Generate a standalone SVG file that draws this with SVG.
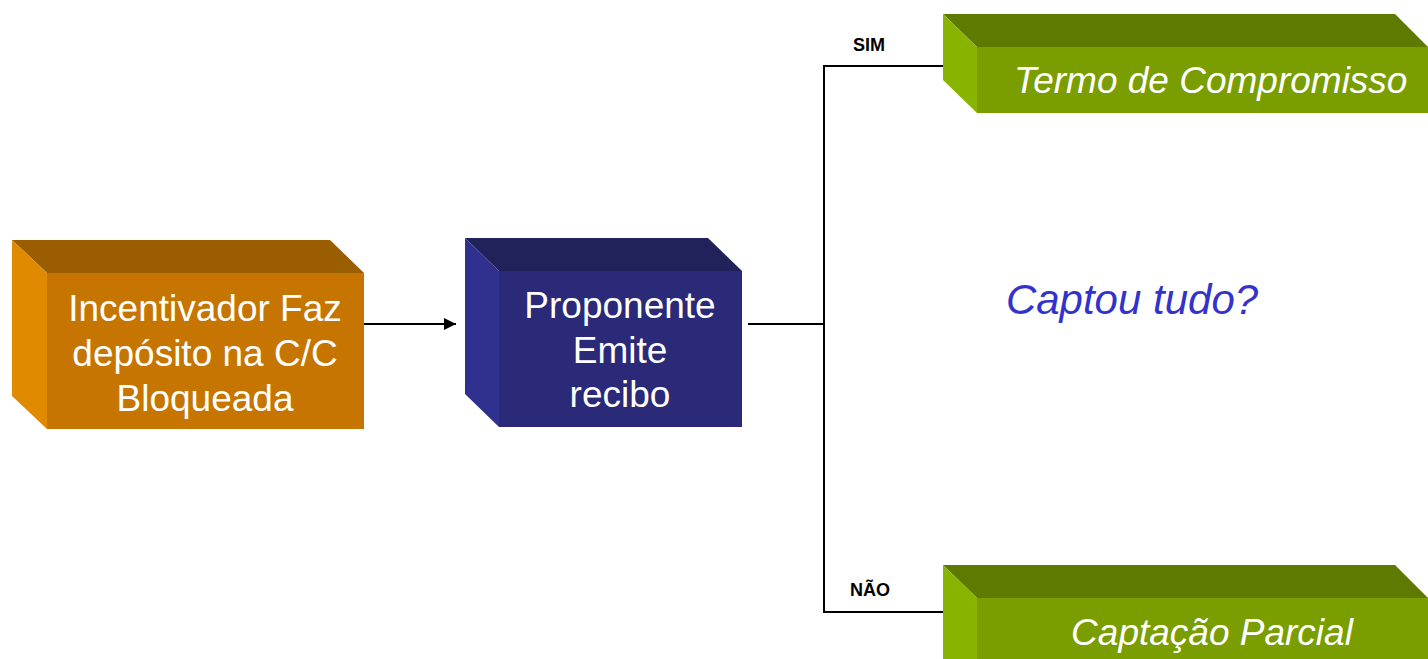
<svg xmlns="http://www.w3.org/2000/svg" width="1428" height="659" viewBox="0 0 1428 659">
<defs>
<style>
.t{font-family:"Liberation Sans",Arial,sans-serif;fill:#fff;text-anchor:middle;font-size:37px}
.ti{font-family:"Liberation Sans",Arial,sans-serif;fill:#fff;font-style:italic;font-size:37px}
.lb{font-family:"Liberation Sans",Arial,sans-serif;font-weight:bold;font-size:18px;fill:#000;text-anchor:middle}
.ln{stroke:#000;stroke-width:2;fill:none}
</style>
<marker id="ah" viewBox="0 0 10 10" refX="10" refY="5" markerWidth="14" markerHeight="12" markerUnits="userSpaceOnUse" orient="auto"><path d="M0,0L10,5L0,10z" fill="#000"/></marker>
</defs>
<rect width="1428" height="659" fill="#fff"/>
<g id="connectors">
<line class="ln" x1="364" y1="324" x2="456" y2="324" marker-end="url(#ah)"/>
<line class="ln" x1="748" y1="324" x2="824" y2="324"/>
<line class="ln" x1="824" y1="66" x2="824" y2="612"/>
<line class="ln" x1="823" y1="66" x2="946" y2="66"/>
<line class="ln" x1="823" y1="612" x2="946" y2="612"/>
<text class="lb" x="869" y="51">SIM</text>
<text class="lb" x="870" y="596">NÃO</text>
</g>
<g id="node-incentivador">
<polygon points="12,240 330,240 364,273 47,273" fill="#9A5E00"/>
<polygon points="12,240 47,273 47,429 12,396" fill="#E08A00"/>
<rect x="47" y="273" width="317" height="156" fill="#C67600"/>
<text class="t" x="205" y="321">Incentivador Faz</text>
<text class="t" x="205" y="366">depósito na C/C</text>
<text class="t" x="205" y="411">Bloqueada</text>
</g>
<g id="node-proponente">
<polygon points="465,238 708,238 742,271 499,271" fill="#22225A"/>
<polygon points="465,238 499,271 499,427 465,394" fill="#30308E"/>
<rect x="499" y="271" width="243" height="156" fill="#2A2A78"/>
<text class="t" x="620" y="318">Proponente</text>
<text class="t" x="620" y="363">Emite</text>
<text class="t" x="620" y="407">recibo</text>
</g>
<g id="node-question">
<text x="1132" y="314" font-family="'Liberation Sans',Arial,sans-serif" font-style="italic" font-size="42" fill="#3333CC" text-anchor="middle">Captou tudo?</text>
</g>
<g id="node-termo">
<polygon points="943,14 1395,14 1428,47 977,47" fill="#5E7A00"/>
<polygon points="943,14 977,47 977,113 943,80" fill="#88B400"/>
<rect x="977" y="47" width="451" height="66" fill="#7A9E00"/>
<text class="ti" x="1014" y="93">Termo de Compromisso</text>
</g>
<g id="node-parcial">
<polygon points="943,565 1395,565 1428,598 977,598" fill="#5E7A00"/>
<polygon points="943,565 977,598 977,659 943,659" fill="#88B400"/>
<rect x="977" y="598" width="451" height="61" fill="#7A9E00"/>
<text class="ti" x="1212" y="645" text-anchor="middle">Captação Parcial</text>
</g>
</svg>
